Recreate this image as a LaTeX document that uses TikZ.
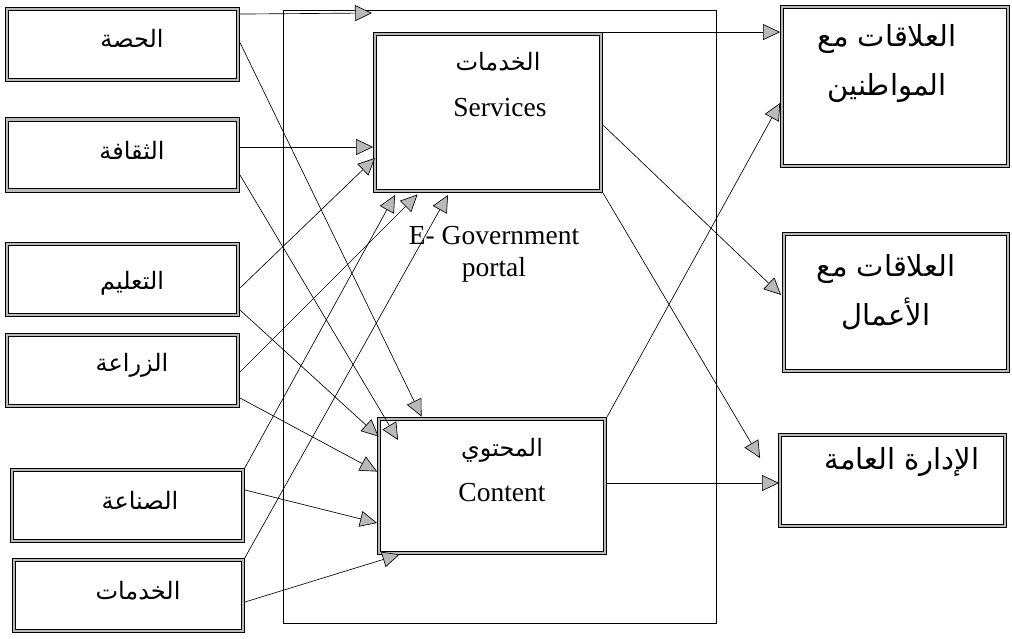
\documentclass[tikz,border=0pt]{standalone}
\usepackage{fontspec}
\setmainfont{Liberation Serif}
\newfontfamily\arabicfont[Script=Arabic]{DejaVu Sans}
\TeXXeTstate=1
\usetikzlibrary{arrows.meta,calc}
\newcommand{\artxt}[1]{{\arabicfont\beginR #1\endR}}

\begin{document}
\begin{tikzpicture}[x=1pt,y=-1pt,
  box/.style={rectangle, draw=black, line width=0.9pt, double=gray!55,
    double distance=2.6pt, fill=white, inner sep=0pt},
  leftbox/.style={box, minimum width=231pt, minimum height=71pt},
  midbox/.style={box, minimum width=226pt},
  rightbox/.style={box},
  portalframe/.style={rectangle, draw=black, line width=0.7pt, inner sep=0pt},
  artext/.style={font=\fontsize{24}{30}\selectfont, inner sep=0pt, align=center},
  bigartext/.style={font=\fontsize{29}{49}\selectfont, inner sep=0pt, align=center},
  entext/.style={font=\fontsize{27.5}{32}\selectfont, inner sep=0pt, align=center},
  link/.style={line width=0.65pt, line join=miter,
    -{Triangle[length=17pt, width=16pt, fill=gray!55]}}
]
\fill[white] (0,0) rectangle (1012,638);
\path[use as bounding box] (0,0) rectangle (1012,638);

% portal frame
\node[portalframe, minimum width=433pt, minimum height=613pt] (portal) at (499.5,316.5) {};

% sector boxes on the left
\node[leftbox] (hasa)  at (122.5,44.5)  {};
\node[leftbox] (thaq)  at (122.5,155)   {};
\node[leftbox] (taal)  at (122.5,279.5) {};
\node[leftbox] (zira)  at (122.5,370.5) {};
\node[leftbox] (sina)  at (127.5,505.5) {};
\node[leftbox, minimum width=229pt] (khad) at (128.5,595.5) {};

\node[artext] (thasa) at (132,38)  {\artxt{الحصة}};
\node[artext] (tthaq) at (132,150) {\artxt{الثقافة}};
\node[artext] (ttaal) at (132,283) {\artxt{التعليم}};
\node[artext] (tzira) at (132,365) {\artxt{الزراعة}};
\node[artext] (tsina) at (140,500) {\artxt{الصناعة}};
\node[artext] (tkhad) at (138,591) {\artxt{الخدمات}};

% portal components
\node[midbox, minimum height=157pt] (serv) at (488,112.5) {};
\node[midbox, minimum height=134pt] (cont) at (492,486) {};
\node[artext] (tserv1) at (498,62)  {\artxt{الخدمات}};
\node[entext] (tserv2) at (500,108) {Services};
\node[artext] (tcont1) at (502,450) {\artxt{المحتوي}};
\node[entext] (tcont2) at (502,493) {Content};
\node[entext] (tportal) at (494,254) {E- Government\\portal};

% relation boxes on the right
\node[rightbox, minimum width=226pt, minimum height=159pt] (mowa) at (895,86.5) {};
\node[rightbox, minimum width=224pt, minimum height=137pt] (aama) at (896,302.5) {};
\node[rightbox, minimum width=225pt, minimum height=91pt] (idar) at (892.5,480.5) {};
\node[bigartext] (tmowa) at (887,64)  {\artxt{العلاقات مع}\\\artxt{المواطنين}};
\node[bigartext] (taama) at (886,292) {\artxt{العلاقات مع}\\\artxt{الأعمال}};
\node[bigartext] (tidar) at (902,462) {\artxt{الإدارة العامة}};

\coordinate (portalin) at (372,13);

% connectors from the sectors
\draw[link] ($(hasa.north east)+(1.5,5.5)$) -- (portalin);
\draw[link] ($(hasa.east)+(1.5,-2)$) -- ($(cont.north west)+(43,-2)$);
\draw[link] ($(thaq.east)+(1.5,-8)$) -- ($(serv.west)+(-1.5,34.5)$);
\draw[link] ($(thaq.east)+(1.5,20)$) -- ($(cont.north west)+(19.5,21.5)$);
\draw[link] ($(taal.east)+(1.5,8.5)$) -- ($(serv.south west)+(0.5,-33.5)$);
\draw[link] ($(taal.east)+(1.5,30.5)$) -- ($(cont.north west)+(0,18)$);
\draw[link] ($(zira.east)+(1.5,1.5)$) -- ($(serv.south west)+(43,3)$);
\draw[link] ($(zira.east)+(1.5,27.5)$) -- ($(cont.north west)+(-1.5,53)$);
\draw[link] ($(sina.north east)+(1,-1)$) -- ($(serv.south west)+(20.5,3.5)$);
\draw[link] ($(sina.east)+(1.5,-15.5)$) -- ($(cont.west)+(-1.5,37)$);
\draw[link] ($(khad.north east)+(1,-1)$) -- ($(serv.south west)+(73.5,3.5)$);
\draw[link] ($(khad.east)+(1.5,6.5)$) -- ($(cont.south west)+(21,1)$);

% connectors to the relations
\draw[link] ($(serv.north east)+(1.5,-1.5)$) -- ($(mowa.north west)+(-1.5,25.5)$);
\draw[link] ($(serv.east)+(1.5,12.5)$) -- ($(aama.west)+(-2.5,-7.5)$);
\draw[link] ($(serv.south east)+(1.5,1.5)$) -- ($(idar.north west)+(-19.5,23.5)$);
\draw[link] ($(cont.north east)+(1.5,-1.5)$) -- ($(mowa.west)+(-1.5,16.5)$);
\draw[link] ($(cont.east)+(1.5,-3)$) -- ($(idar.west)+(-0.5,2.5)$);
\end{tikzpicture}
\end{document}
